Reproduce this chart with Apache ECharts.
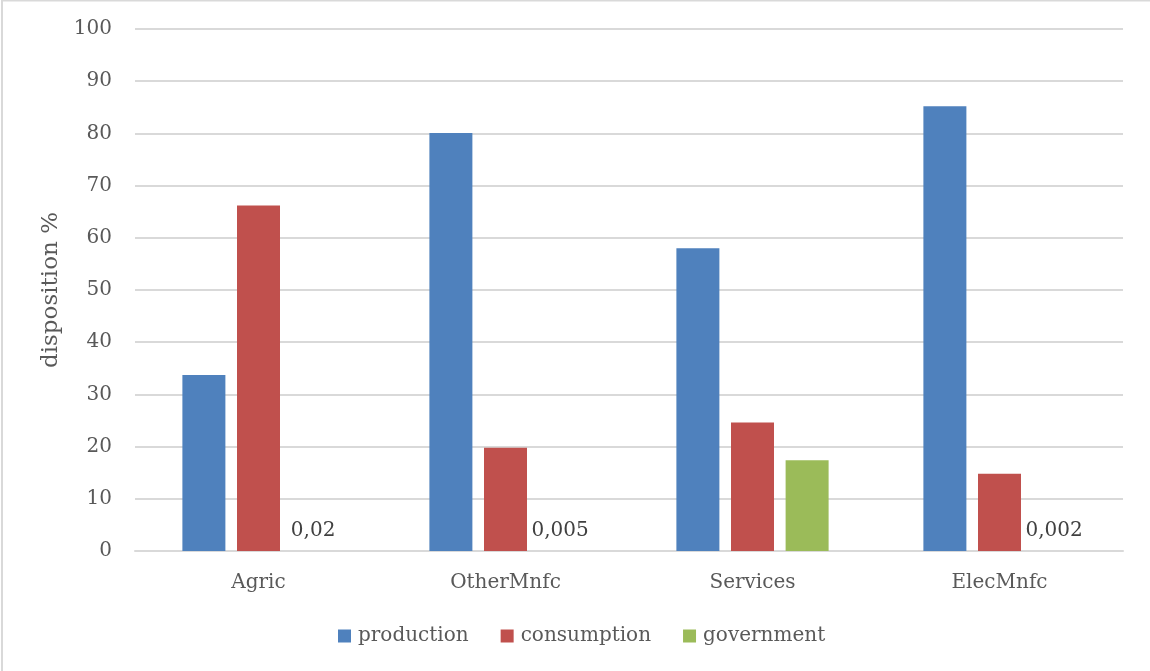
<!DOCTYPE html>
<html>
<head>
<meta charset="utf-8">
<script src="https://cdn.jsdelivr.net/npm/echarts@6/dist/echarts.min.js"></script>
<style>
  html, body { margin: 0; padding: 0; background: #fff; }
  #chart { width: 1150px; height: 671px; }
</style>
</head>
<body>
<div id="chart"></div>
<script>
// Sector disposition shares (%)
const categories = ['Agric', 'OtherMnfc', 'Services', 'ElecMnfc'];
const production = [33.7, 80.1, 58.0, 85.2];
const consumption = [66.2, 19.8, 24.6, 14.8];
const government = [0.02, 0.005, 17.4, 0.002];
// value labels drawn next to the near-zero government bars
const governmentLabelled = [true, true, false, true];
const yTicks = { min: 0, max: 100, interval: 10 };

const FONT = 'DejaVu Serif';
const TEXT = '#595959';

const fmt = v => String(v).replace('.', ',');

const govData = government.map((v, i) => ({
  value: v,
  label: { show: governmentLabelled[i] }
}));

const chart = echarts.init(document.getElementById('chart'), null, { renderer: 'canvas' });
chart.setOption({
  animation: false,
  backgroundColor: '#ffffff',
  textStyle: { fontFamily: FONT },
  graphic: [{
    type: 'rect',
    shape: { x: 2, y: 0.5, width: 1200, height: 700 },
    style: { fill: 'none', stroke: '#d9d9d9', lineWidth: 2 },
    silent: true
  }],
  grid: { left: 135, right: 27, top: 29, bottom: 120 },
  legend: {
    left: 338,
    top: 626,
    padding: 0,
    itemWidth: 13,
    itemHeight: 13,
    itemGap: 32,
    icon: 'rect',
    textStyle: { fontFamily: FONT, fontSize: 20, color: TEXT, padding: [0, 0, 0, 2] },
    data: ['production', 'consumption', 'government']
  },
  xAxis: {
    type: 'category',
    data: categories,
    axisLine: { lineStyle: { color: '#d9d9d9', width: 2 } },
    axisTick: { show: false },
    axisLabel: { fontFamily: FONT, fontSize: 20, color: TEXT, margin: 22 }
  },
  yAxis: {
    type: 'value',
    min: yTicks.min,
    max: yTicks.max,
    interval: yTicks.interval,
    name: 'disposition %',
    nameLocation: 'middle',
    nameGap: 72,
    nameTextStyle: { fontFamily: FONT, fontSize: 23, color: TEXT },
    axisLine: { show: false },
    axisTick: { show: false },
    axisLabel: { fontFamily: FONT, fontSize: 20, color: TEXT, margin: 23 },
    splitLine: { lineStyle: { color: '#d9d9d9', width: 2 } }
  },
  series: [
    {
      name: 'production', type: 'bar', data: production,
      barWidth: 43, barGap: '27%',
      itemStyle: { color: '#4F81BD' }
    },
    {
      name: 'consumption', type: 'bar', data: consumption,
      barWidth: 43, barGap: '27%',
      itemStyle: { color: '#C0504D' }
    },
    {
      name: 'government', type: 'bar', data: govData,
      barWidth: 43, barGap: '27%',
      itemStyle: { color: '#9BBB59' },
      label: {
        position: 'top',
        distance: 10,
        fontFamily: FONT,
        fontSize: 20,
        color: '#404040',
        formatter: p => fmt(p.value)
      }
    }
  ]
});
</script>
</body>
</html>
